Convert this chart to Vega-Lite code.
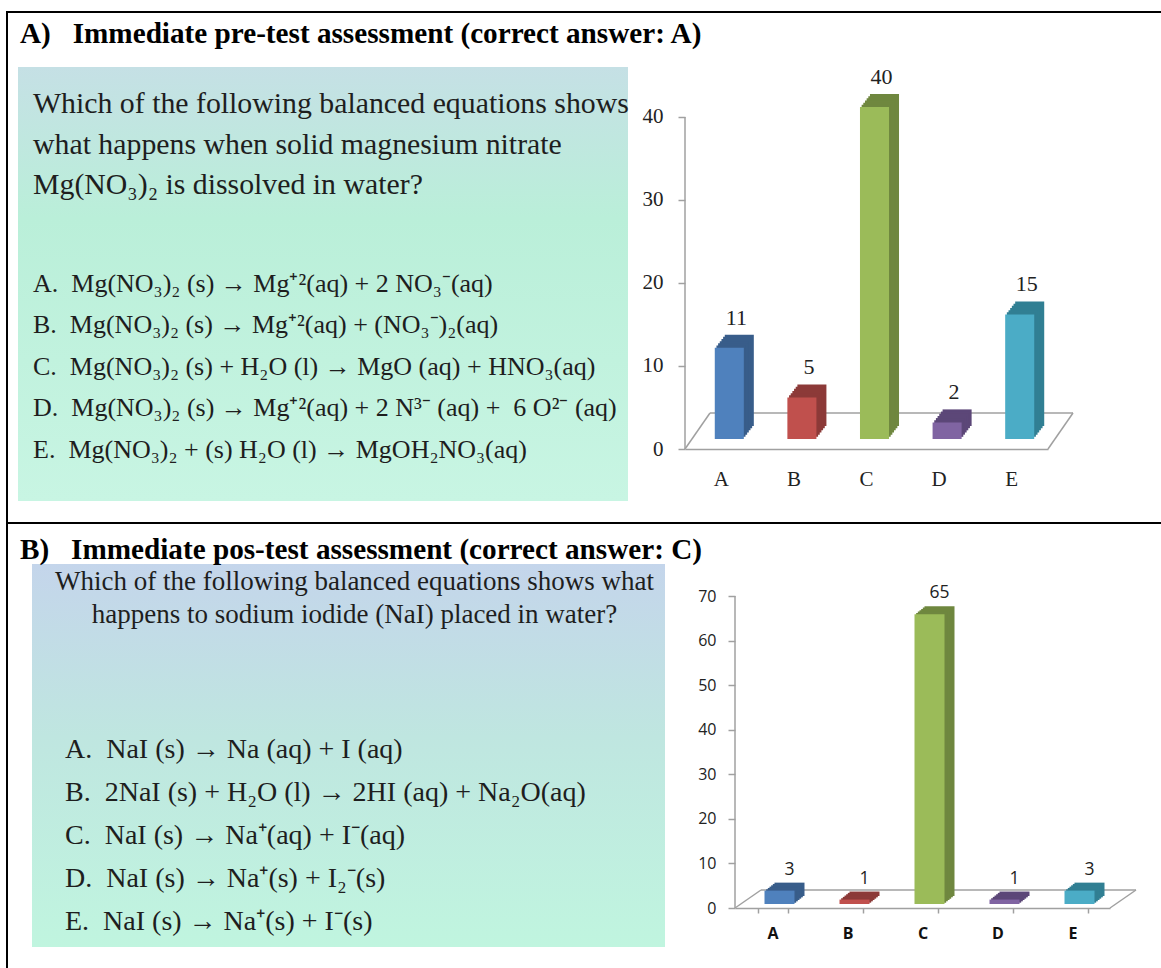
{
 "$schema": "https://vega.github.io/schema/vega-lite/v6.json",
 "padding": {"left": 6, "top": 11, "right": 0, "bottom": 0},
 "background": "#ffffff",
 "spacing": 0,
 "config": {
  "view": {"stroke": null},
  "title": {"font": "Liberation Serif", "fontWeight": "bold", "fontSize": 29.2, "color": "#000000", "anchor": "start", "frame": "group", "baseline": "alphabetic"}
 },
 "datasets": {
  "pre": [{"opt": "A", "n": 11}, {"opt": "B", "n": 5}, {"opt": "C", "n": 40}, {"opt": "D", "n": 2}, {"opt": "E", "n": 15}],
  "post": [{"opt": "A", "n": 3}, {"opt": "B", "n": 1}, {"opt": "C", "n": 65}, {"opt": "D", "n": 1}, {"opt": "E", "n": 3}],
  "qa": [
   {"line": 1, "text": "Which of the following balanced equations shows"},
   {"line": 2, "text": "what happens when solid magnesium nitrate"},
   {"line": 3, "text": "Mg(NO₃)₂ is dissolved in water?"}
  ],
  "ea": [
   {"line": 1, "text": "A.\u00a0 Mg(NO₃)₂ (s) → Mg⁺²(aq) + 2 NO₃⁻(aq)"},
   {"line": 2, "text": "B.\u00a0 Mg(NO₃)₂ (s) → Mg⁺²(aq) + (NO₃⁻)₂(aq)"},
   {"line": 3, "text": "C.\u00a0 Mg(NO₃)₂ (s) + H₂O (l) → MgO (aq) + HNO₃(aq)"},
   {"line": 4, "text": "D.\u00a0 Mg(NO₃)₂ (s) → Mg⁺²(aq) + 2 N³⁻ (aq) +\u00a0 6 O²⁻ (aq)"},
   {"line": 5, "text": "E.\u00a0 Mg(NO₃)₂ + (s) H₂O (l) → MgOH₂NO₃(aq)"}
  ],
  "qb": [
   {"line": 1, "text": "Which of the following balanced equations shows what"},
   {"line": 2, "text": "happens to sodium iodide (NaI) placed in water?"}
  ],
  "eb": [
   {"line": 1, "text": "A.\u00a0 NaI (s) → Na (aq) + I (aq)"},
   {"line": 2, "text": "B.\u00a0 2NaI (s) + H₂O (l) → 2HI (aq) + Na₂O(aq)"},
   {"line": 3, "text": "C.\u00a0 NaI (s) → Na⁺(aq) + I⁻(aq)"},
   {"line": 4, "text": "D.\u00a0 NaI (s) → Na⁺(s) + I₂⁻(s)"},
   {"line": 5, "text": "E.\u00a0 NaI (s) → Na⁺(s) + I⁻(s)"}
  ]
 },
 "hconcat": [
  {"width": 2, "height": 957, "view": {"fill": "#000000", "stroke": null}, "data": {"values": []}, "mark": "point"},
  {
   "spacing": 0,
   "vconcat": [
    {"width": 1153, "height": 2, "view": {"fill": "#000000", "stroke": null}, "data": {"values": []}, "mark": "point"},
    {"width": 1, "height": 6, "data": {"values": []}, "mark": "point"},
    {
     "bounds": "flush", "spacing": 9,
     "title": {"text": "A)\u00a0\u00a0\u00a0Immediate pre-test assessment (correct answer: A)", "offset": 17, "dx": 12},
     "hconcat": [
      {"width": 1, "height": 455, "data": {"values": []}, "mark": "point"},
      {
       "width": 610, "height": 434,
       "view": {"stroke": null, "fill": {"gradient": "linear", "x1": 0, "y1": 0, "x2": 0, "y2": 1, "stops": [{"offset": 0, "color": "#c5e0e5"}, {"offset": 0.35, "color": "#baefd9"}, {"offset": 1, "color": "#c8f5e3"}]}},
       "layer": [
        {
         "data": {"name": "qa"},
         "mark": {"type": "text", "align": "left", "baseline": "middle", "font": "Liberation Serif", "fontSize": 29.8, "color": "#1e1e1e", "dx": 15},
         "encoding": {
          "x": {"datum": 0, "type": "quantitative", "scale": {"domain": [0, 1], "nice": false, "zero": false}, "axis": null},
          "y": {"field": "line", "type": "quantitative", "scale": {"domain": [0.0864, 10.802], "reverse": true, "nice": false, "zero": false}, "axis": null},
          "text": {"field": "text", "type": "nominal"}
         }
        },
        {
         "data": {"name": "ea"},
         "mark": {"type": "text", "align": "left", "baseline": "middle", "font": "Liberation Serif", "fontSize": 26, "color": "#1e1e1e", "dx": 15},
         "encoding": {
          "x": {"datum": 0, "type": "quantitative", "scale": {"domain": [0, 1], "nice": false, "zero": false}, "axis": null},
          "y": {"field": "line", "type": "quantitative", "scale": {"domain": [-4.229, 6.229], "reverse": true, "nice": false, "zero": false}, "axis": null},
          "text": {"field": "text", "type": "nominal"}
         }
        }
       ],
       "resolve": {"scale": {"y": "independent"}}
      },
      {"width": 39, "height": 1, "data": {"values": []}, "mark": "point"},
      {
       "width": 363, "height": 382,
       "data": {"name": "pre"},
       "layer": [
        {
         "data": {"values": [{}]},
         "layer": [
          {"mark": {"type": "rule", "color": "#a0a0a0", "strokeWidth": 1.5},
           "encoding": {"x": {"datum": 0, "type": "quantitative", "scale": {"domain": [0, 1], "nice": false, "zero": false}, "axis": null},
                        "y": {"datum": 0, "type": "quantitative", "scale": {"domain": [0, 46.02], "nice": false},
                              "axis": {"title": null, "values": [0, 10, 20, 30, 40], "grid": false, "domain": false, "tickColor": "#a0a0a0", "tickSize": 7, "tickWidth": 1.5, "labelFont": "Liberation Serif", "labelFontSize": 21, "labelColor": "#222222", "labelPadding": 15}},
                        "y2": {"datum": 40}}},
          {"mark": {"type": "rule", "color": "#a0a0a0", "strokeWidth": 1.5, "xOffset": 25, "x2Offset": 25, "yOffset": -36},
           "encoding": {"x": {"datum": 0, "type": "quantitative", "scale": {"domain": [0, 1], "nice": false, "zero": false}, "axis": null}, "x2": {"datum": 1},
                        "y": {"datum": 0, "type": "quantitative",
                              "axis": {"title": null, "values": [0, 10, 20, 30, 40], "grid": false, "domain": false, "tickColor": "#a0a0a0", "tickSize": 7, "tickWidth": 1.5, "labelFont": "Liberation Serif", "labelFontSize": 21, "labelColor": "#222222", "labelPadding": 15}}}},
          {"mark": {"type": "rule", "color": "#a0a0a0", "strokeWidth": 1.5, "x2Offset": 25, "y2Offset": -36},
           "encoding": {"x": {"datum": 0, "type": "quantitative", "scale": {"domain": [0, 1], "nice": false, "zero": false}, "axis": null}, "x2": {"datum": 0},
                        "y": {"datum": 0, "type": "quantitative",
                              "axis": {"title": null, "values": [0, 10, 20, 30, 40], "grid": false, "domain": false, "tickColor": "#a0a0a0", "tickSize": 7, "tickWidth": 1.5, "labelFont": "Liberation Serif", "labelFontSize": 21, "labelColor": "#222222", "labelPadding": 15}},
                        "y2": {"datum": 0}}},
          {"mark": {"type": "rule", "color": "#a0a0a0", "strokeWidth": 1.5, "x2Offset": 25, "y2Offset": -36},
           "encoding": {"x": {"datum": 1, "type": "quantitative", "scale": {"domain": [0, 1], "nice": false, "zero": false}, "axis": null}, "x2": {"datum": 1},
                        "y": {"datum": 0, "type": "quantitative",
                              "axis": {"title": null, "values": [0, 10, 20, 30, 40], "grid": false, "domain": false, "tickColor": "#a0a0a0", "tickSize": 7, "tickWidth": 1.5, "labelFont": "Liberation Serif", "labelFontSize": 21, "labelColor": "#222222", "labelPadding": 15}},
                        "y2": {"datum": 0}}}
         ]
        },
        {
         "encoding": {
          "x": {"field": "opt", "type": "nominal", "sort": null, "scale": {"paddingInner": 0.6, "paddingOuter": 0.3},
                "axis": {"title": null, "domainColor": "#a0a0a0", "domainWidth": 1.5, "ticks": false, "tickSize": 0, "labelFont": "Liberation Serif", "labelFontSize": 21, "labelColor": "#222222", "labelAngle": 0, "labelPadding": 19}},
          "y": {"field": "n", "type": "quantitative", "scale": {"domain": [0, 46.02], "nice": false},
                "axis": {"title": null, "values": [0, 10, 20, 30, 40], "grid": false, "domain": false, "tickColor": "#a0a0a0", "tickSize": 7, "tickWidth": 1.5, "labelFont": "Liberation Serif", "labelFontSize": 21, "labelColor": "#222222", "labelPadding": 15}}
         },
         "layer": [
          {
           "encoding": {"color": {"field": "opt", "type": "nominal", "scale": {"domain": ["A", "B", "C", "D", "E"], "range": ["#385d8a", "#8c3a38", "#6f873f", "#5c4778", "#317f93"]}, "legend": null}},
           "layer": [
            {"mark": {"type": "bar", "xOffset": 18, "yOffset": -23, "y2Offset": -23}},
            {"mark": {"type": "bar", "xOffset": 16.33, "yOffset": -20.83, "y2Offset": -20.83}},
            {"mark": {"type": "bar", "xOffset": 14.67, "yOffset": -18.67, "y2Offset": -18.67}},
            {"mark": {"type": "bar", "xOffset": 13, "yOffset": -16.5, "y2Offset": -16.5}},
            {"mark": {"type": "bar", "xOffset": 11.33, "yOffset": -14.33, "y2Offset": -14.33}},
            {"mark": {"type": "bar", "xOffset": 9.67, "yOffset": -12.17, "y2Offset": -12.17}}
           ]
          },
          {"mark": {"type": "bar", "xOffset": 8, "yOffset": -10, "y2Offset": -10},
           "encoding": {"color": {"field": "opt", "type": "nominal", "scale": {"domain": ["A", "B", "C", "D", "E"], "range": ["#4f81bd", "#c0504d", "#9bbb59", "#8064a2", "#4bacc6"]}, "legend": null}}},
          {"mark": {"type": "text", "font": "Liberation Serif", "fontSize": 22, "color": "#222222", "dx": 15, "dy": -40, "baseline": "middle"},
           "encoding": {"text": {"field": "n", "type": "quantitative"}}}
         ],
         "resolve": {"scale": {"color": "independent"}}
        }
       ],
       "resolve": {"scale": {"x": "independent"}}
      }
     ]
    },
    {"width": 1153, "height": 2, "view": {"fill": "#000000", "stroke": null}, "data": {"values": []}, "mark": "point"},
    {"width": 1, "height": 11, "data": {"values": []}, "mark": "point"},
    {
     "bounds": "flush", "spacing": 23,
     "title": {"text": "B)\u00a0\u00a0\u00a0Immediate pos-test assessment (correct answer: C)", "offset": -1, "dx": 12},
     "hconcat": [
      {"width": 1, "height": 1, "data": {"values": []}, "mark": "point"},
      {
       "width": 633, "height": 383,
       "view": {"stroke": null, "fill": {"gradient": "linear", "x1": 0, "y1": 0, "x2": 0, "y2": 1, "stops": [{"offset": 0, "color": "#c4d5eb"}, {"offset": 0.45, "color": "#bfe6e0"}, {"offset": 1, "color": "#c0f5df"}]}},
       "layer": [
        {
         "data": {"name": "qb"},
         "mark": {"type": "text", "align": "center", "baseline": "middle", "font": "Liberation Serif", "fontSize": 27, "color": "#1e1e1e", "dx": 6},
         "encoding": {
          "x": {"datum": 0.5, "type": "quantitative", "scale": {"domain": [0, 1], "nice": false, "zero": false}, "axis": null},
          "y": {"field": "line", "type": "quantitative", "scale": {"domain": [0.4545, 12.06], "reverse": true, "nice": false, "zero": false}, "axis": null},
          "text": {"field": "text", "type": "nominal"}
         }
        },
        {
         "data": {"name": "eb"},
         "mark": {"type": "text", "align": "left", "baseline": "middle", "font": "Liberation Serif", "fontSize": 28, "color": "#1e1e1e", "dx": 33},
         "encoding": {
          "x": {"datum": 0, "type": "quantitative", "scale": {"domain": [0, 1], "nice": false, "zero": false}, "axis": null},
          "y": {"field": "line", "type": "quantitative", "scale": {"domain": [-3.326, 5.581], "reverse": true, "nice": false, "zero": false}, "axis": null},
          "text": {"field": "text", "type": "nominal"}
         }
        }
       ],
       "resolve": {"scale": {"y": "independent"}}
      },
      {"width": 24, "height": 1, "data": {"values": []}, "mark": "point"},
      {
       "width": 375, "height": 344,
       "data": {"name": "post"},
       "layer": [
        {
         "data": {"values": [{}]},
         "layer": [
          {"mark": {"type": "rule", "color": "#a0a0a0", "strokeWidth": 1.5},
           "encoding": {"x": {"datum": 0, "type": "quantitative", "scale": {"domain": [0, 1], "nice": false, "zero": false}, "axis": null},
                        "y": {"datum": 0, "type": "quantitative", "scale": {"domain": [0, 77.18], "nice": false},
                              "axis": {"title": null, "values": [0, 10, 20, 30, 40, 50, 60, 70], "grid": false, "domain": false, "tickColor": "#a0a0a0", "tickSize": 7, "tickWidth": 1.5, "labelFont": "Open Sans", "labelFontSize": 16, "labelColor": "#222222", "labelPadding": 12}},
                        "y2": {"datum": 70}}},
          {"mark": {"type": "rule", "color": "#a0a0a0", "strokeWidth": 1.5, "xOffset": 26, "x2Offset": 26, "yOffset": -18},
           "encoding": {"x": {"datum": 0, "type": "quantitative", "scale": {"domain": [0, 1], "nice": false, "zero": false}, "axis": null}, "x2": {"datum": 1},
                        "y": {"datum": 0, "type": "quantitative",
                              "axis": {"title": null, "values": [0, 10, 20, 30, 40, 50, 60, 70], "grid": false, "domain": false, "tickColor": "#a0a0a0", "tickSize": 7, "tickWidth": 1.5, "labelFont": "Open Sans", "labelFontSize": 16, "labelColor": "#222222", "labelPadding": 12}}}},
          {"mark": {"type": "rule", "color": "#a0a0a0", "strokeWidth": 1.5, "x2Offset": 26, "y2Offset": -18},
           "encoding": {"x": {"datum": 0, "type": "quantitative", "scale": {"domain": [0, 1], "nice": false, "zero": false}, "axis": null}, "x2": {"datum": 0},
                        "y": {"datum": 0, "type": "quantitative",
                              "axis": {"title": null, "values": [0, 10, 20, 30, 40, 50, 60, 70], "grid": false, "domain": false, "tickColor": "#a0a0a0", "tickSize": 7, "tickWidth": 1.5, "labelFont": "Open Sans", "labelFontSize": 16, "labelColor": "#222222", "labelPadding": 12}},
                        "y2": {"datum": 0}}},
          {"mark": {"type": "rule", "color": "#a0a0a0", "strokeWidth": 1.5, "x2Offset": 26, "y2Offset": -18},
           "encoding": {"x": {"datum": 1, "type": "quantitative", "scale": {"domain": [0, 1], "nice": false, "zero": false}, "axis": null}, "x2": {"datum": 1},
                        "y": {"datum": 0, "type": "quantitative",
                              "axis": {"title": null, "values": [0, 10, 20, 30, 40, 50, 60, 70], "grid": false, "domain": false, "tickColor": "#a0a0a0", "tickSize": 7, "tickWidth": 1.5, "labelFont": "Open Sans", "labelFontSize": 16, "labelColor": "#222222", "labelPadding": 12}},
                        "y2": {"datum": 0}}}
         ]
        },
        {
         "encoding": {
          "x": {"field": "opt", "type": "nominal", "sort": null, "scale": {"paddingInner": 0.6, "paddingOuter": 0.3},
                "axis": {"title": null, "domainColor": "#a0a0a0", "domainWidth": 1.5, "ticks": true, "tickBand": "extent", "tickColor": "#a0a0a0", "tickSize": 5, "tickWidth": 1.5, "labelFont": "Open Sans", "labelFontWeight": "bold", "labelFontSize": 16, "labelColor": "#111111", "labelAngle": 0, "labelPadding": 12}},
          "y": {"field": "n", "type": "quantitative", "scale": {"domain": [0, 77.18], "nice": false},
                "axis": {"title": null, "values": [0, 10, 20, 30, 40, 50, 60, 70], "grid": false, "domain": false, "tickColor": "#a0a0a0", "tickSize": 7, "tickWidth": 1.5, "labelFont": "Open Sans", "labelFontSize": 16, "labelColor": "#222222", "labelPadding": 12}}
         },
         "layer": [
          {
           "encoding": {"color": {"field": "opt", "type": "nominal", "scale": {"domain": ["A", "B", "C", "D", "E"], "range": ["#385d8a", "#8c3a38", "#6f873f", "#5c4778", "#317f93"]}, "legend": null}},
           "layer": [
            {"mark": {"type": "bar", "xOffset": 17, "yOffset": -12, "y2Offset": -12}},
            {"mark": {"type": "bar", "xOffset": 15.33, "yOffset": -10.67, "y2Offset": -10.67}},
            {"mark": {"type": "bar", "xOffset": 13.67, "yOffset": -9.33, "y2Offset": -9.33}},
            {"mark": {"type": "bar", "xOffset": 12, "yOffset": -8, "y2Offset": -8}},
            {"mark": {"type": "bar", "xOffset": 10.33, "yOffset": -6.67, "y2Offset": -6.67}},
            {"mark": {"type": "bar", "xOffset": 8.67, "yOffset": -5.33, "y2Offset": -5.33}}
           ]
          },
          {"mark": {"type": "bar", "xOffset": 7, "yOffset": -4, "y2Offset": -4},
           "encoding": {"color": {"field": "opt", "type": "nominal", "scale": {"domain": ["A", "B", "C", "D", "E"], "range": ["#4f81bd", "#c0504d", "#9bbb59", "#8064a2", "#4bacc6"]}, "legend": null}}},
          {"mark": {"type": "text", "font": "Open Sans", "fontSize": 17.5, "color": "#222222", "dx": 17, "dy": -25, "baseline": "middle"},
           "encoding": {"text": {"field": "n", "type": "quantitative"}}}
         ],
         "resolve": {"scale": {"color": "independent"}}
        }
       ],
       "resolve": {"scale": {"x": "independent"}}
      }
     ]
    }
   ]
  }
 ]
}
